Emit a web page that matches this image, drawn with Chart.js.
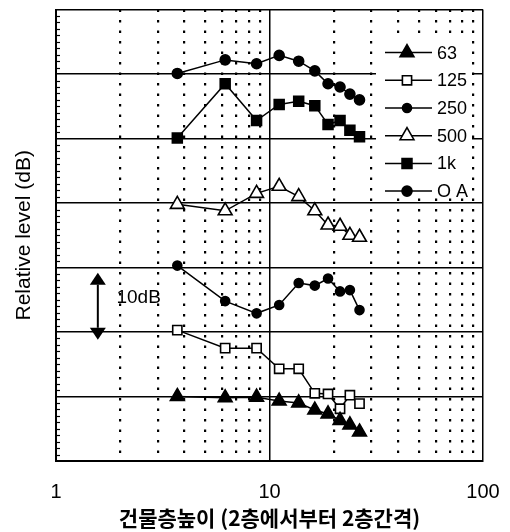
<!DOCTYPE html>
<html>
<head>
<meta charset="utf-8">
<script src="https://cdn.jsdelivr.net/npm/chart.js@4/dist/chart.umd.min.js"></script>
<style>
    html, body { margin: 0; padding: 0; background: #fff; }
    #wrap { width: 510px; height: 532px; }
</style>
</head>
<body>
<div id="wrap"><canvas id="chart" width="510" height="532"></canvas></div>
<script>
(function () {
    'use strict';

    // ── Data ─────────────────────────────────────────────────────────────────
    // building height at each measured floor (shared by every band)
    var heights = [3.7, 6.2, 8.7, 11.1, 13.7, 16.3, 18.8, 21.4, 23.8, 26.4];

    // relative level per band, each curve shifted 10 dB up from the one below
    var lvl63  = [10.0, 9.8, 9.9, 9.3, 9.0, 7.9, 7.3, 6.3, 5.6, 4.5];
    var lvl125 = [20.3, 17.5, 17.5, 14.3, 14.3, 10.5, 10.4, 8.1, 10.2, 8.9];
    var lvl250 = [30.3, 24.8, 22.9, 24.2, 27.6, 27.2, 28.3, 26.3, 26.5, 23.4];
    var lvl500 = [39.8, 38.8, 41.5, 42.6, 41.0, 38.8, 36.6, 36.4, 35.0, 34.7];
    var lvl1k  = [50.1, 58.5, 52.8, 55.3, 55.8, 55.1, 52.2, 52.8, 51.3, 50.3];
    var lvlOA  = [60.1, 62.2, 61.6, 62.9, 62.0, 60.5, 58.5, 58.0, 56.9, 56.0];

    var bandNames   = ['63', '125', '250', '500', '1k', 'O A'];
    var xTickLabels = [1, 10, 100];
    var xGridValues = [1, 2, 3, 4, 5, 6, 7, 8, 9, 10, 20, 30, 40, 50, 60, 70, 80, 90, 100];
    var yMin = 0, yMax = 70, yMajor = 10;

    // 10 dB scale bar (x in building height, y in dB)
    var barX = 1.57, barFrom = 18.8, barTo = 29.2, barText = '10dB', barTextX = 1.92;

    var FONT = "'Liberation Sans', Arial, sans-serif";

    function pts(ys) {
        return ys.map(function (y, i) { return { x: heights[i], y: y }; });
    }

    function series(label, ys, style, radius, fill) {
        return {
            label: label, data: pts(ys),
            borderColor: '#000', borderWidth: 1.5,
            pointStyle: style, pointRadius: radius,
            pointBackgroundColor: fill, pointBorderColor: '#000', pointBorderWidth: 1.6,
            tension: 0, fill: false
        };
    }

    // ── Plugins ──────────────────────────────────────────────────────────────
    var paper = {
        id: 'paper',
        beforeDraw: function (chart) {
            var ctx = chart.ctx;
            ctx.save();
            ctx.fillStyle = '#fff';
            ctx.fillRect(0, 0, chart.width, chart.height);
            ctx.restore();
        }
    };

    // small inward ticks on the left edge every 1 dB
    var minorTicks = {
        id: 'minorTicks',
        beforeDatasetsDraw: function (chart) {
            var y = chart.scales.y, ctx = chart.ctx, left = chart.chartArea.left;
            ctx.save();
            ctx.strokeStyle = '#000';
            ctx.lineWidth = 1.2;
            y.ticks.forEach(function (t) {
                if (t.value % yMajor === 0) return;
                var py = Math.round(y.getPixelForValue(t.value)) + 0.5;
                ctx.beginPath();
                ctx.moveTo(left, py);
                ctx.lineTo(left + 4, py);
                ctx.stroke();
            });
            ctx.restore();
        }
    };

    // legend drawn inside the plot, top right, on a white patch
    var legendBox = {
        id: 'legendBox',
        beforeDatasetsDraw: function (chart) {
            var a = chart.chartArea, ctx = chart.ctx;
            ctx.save();
            ctx.fillStyle = '#fff';
            ctx.fillRect(a.right - 107, a.top + 31, 96, 157);
            ctx.restore();
        },
        afterDraw: function (chart) {
            var a = chart.chartArea, ctx = chart.ctx;
            var x0 = a.right - 98, x1 = a.right - 51, xm = a.right - 76;
            ctx.save();
            chart.data.datasets.forEach(function (ds, i) {
                var yy = a.top + 43 + i * 27.7;
                ctx.strokeStyle = '#000';
                ctx.lineWidth = 1.5;
                ctx.beginPath();
                ctx.moveTo(x0, yy);
                ctx.lineTo(x1, yy);
                ctx.stroke();
                ctx.fillStyle = ds.pointBackgroundColor;
                ctx.strokeStyle = '#000';
                ctx.lineWidth = ds.pointBorderWidth;
                Chart.helpers.drawPoint(ctx, {
                    pointStyle: ds.pointStyle, radius: ds.pointRadius,
                    rotation: 0, borderWidth: ds.pointBorderWidth
                }, xm, yy);
                ctx.fillStyle = '#000';
                ctx.font = '18px ' + FONT;
                ctx.textBaseline = 'middle';
                ctx.textAlign = 'left';
                ctx.fillText(bandNames[i], x1 + 5, yy + 1);
            });
            ctx.restore();
        }
    };

    // the "10dB" double arrow
    var scaleBar = {
        id: 'scaleBar',
        afterDatasetsDraw: function (chart) {
            var sx = chart.scales.x, sy = chart.scales.y, ctx = chart.ctx;
            var px = sx.getPixelForValue(barX);
            var top = sy.getPixelForValue(barTo), bot = sy.getPixelForValue(barFrom);
            var hw = 8, hh = 12;
            ctx.save();
            ctx.strokeStyle = '#000';
            ctx.fillStyle = '#000';
            ctx.lineWidth = 2;
            ctx.beginPath();
            ctx.moveTo(px, top + hh);
            ctx.lineTo(px, bot - hh);
            ctx.stroke();
            ctx.beginPath();
            ctx.moveTo(px, top);
            ctx.lineTo(px - hw, top + hh);
            ctx.lineTo(px + hw, top + hh);
            ctx.closePath();
            ctx.fill();
            ctx.beginPath();
            ctx.moveTo(px, bot);
            ctx.lineTo(px - hw, bot - hh);
            ctx.lineTo(px + hw, bot - hh);
            ctx.closePath();
            ctx.fill();
            ctx.font = '19px ' + FONT;
            ctx.textBaseline = 'middle';
            ctx.textAlign = 'left';
            ctx.fillText(barText, sx.getPixelForValue(barTextX), sy.getPixelForValue((barFrom + barTo) / 2) - 8);
            ctx.restore();
        }
    };

    // ── Chart ────────────────────────────────────────────────────────────────
    function isMajorX(c) {
        return c.tick && xTickLabels.indexOf(c.tick.value) >= 0;
    }

    new Chart(document.getElementById('chart'), {
        type: 'line',
        data: {
            datasets: [
                series(bandNames[0], lvl63,  'triangle', 8,   '#000'),
                series(bandNames[1], lvl125, 'rect',     6.5, '#fff'),
                series(bandNames[2], lvl250, 'circle',   4.5, '#000'),
                series(bandNames[3], lvl500, 'triangle', 8,   '#fff'),
                series(bandNames[4], lvl1k,  'rect',     7,   '#000'),
                series(bandNames[5], lvlOA,  'circle',   5,   '#000')
            ]
        },
        options: {
            responsive: false,
            animation: false,
            layout: { padding: { top: 5, right: 27, bottom: 1, left: 0 } },
            plugins: { legend: { display: false }, tooltip: { enabled: false } },
            scales: {
                x: {
                    type: 'logarithmic', min: 1, max: 100,
                    afterBuildTicks: function (s) {
                        s.ticks = xGridValues.map(function (v) { return { value: v }; });
                    },
                    afterFit: function (s) {
                        s.height = 70;
                        s.paddingLeft = 0;
                        s.paddingRight = 0;
                    },
                    ticks: {
                        autoSkip: false, maxRotation: 0, padding: 19, color: '#000',
                        font: { family: FONT, size: 20 },
                        callback: function (v) { return xTickLabels.indexOf(v) >= 0 ? String(v) : ''; }
                    },
                    grid: {
                        drawTicks: false, color: '#000',
                        lineWidth: function (c) { return isMajorX(c) ? 1.5 : 2.2; }
                    },
                    border: {
                        color: '#000', width: 2,
                        dash: function (c) { return c.tick && !isMajorX(c) ? [2.5, 8] : []; }
                    },
                    title: {
                        display: true, text: '건물층높이 (2층에서부터 2층간격)', color: '#000',
                        font: { family: "'Noto Sans CJK KR', " + FONT, size: 21, weight: 'bold' },
                        padding: { top: 0, bottom: 0 }
                    }
                },
                y: {
                    min: yMin, max: yMax,
                    afterFit: function (s) {
                        s.width = 56;
                        s.paddingTop = 0;
                        s.paddingBottom = 0;
                    },
                    ticks: { display: false, stepSize: 1 },
                    grid: {
                        drawTicks: false, lineWidth: 1.5,
                        color: function (c) { return c.tick && c.tick.value % yMajor === 0 ? '#000' : 'rgba(0,0,0,0)'; }
                    },
                    border: { color: '#000', width: 2 },
                    title: {
                        display: true, text: 'Relative level (dB)', color: '#000',
                        font: { family: FONT, size: 21 },
                        padding: { top: 12, bottom: 0 }
                    }
                }
            }
        },
        plugins: [paper, minorTicks, legendBox, scaleBar]
    });
})();
</script>
</body>
</html>
